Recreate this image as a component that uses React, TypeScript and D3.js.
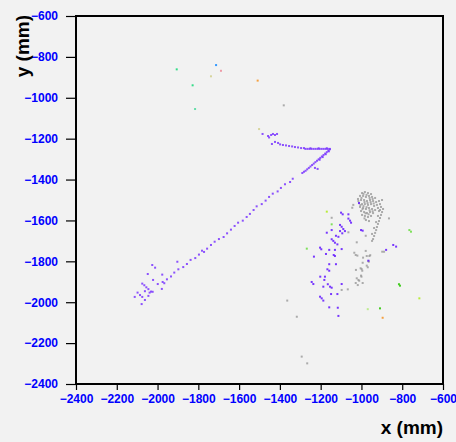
import React, { useEffect, useRef } from "react";
import * as d3 from "d3";

// hit positions in mm
const trackHits: [number, number][] = [
  [-1485, -1177], [-1458, -1187], [-1453, -1194], [-1443, -1182], [-1434, -1177], [-1424, -1182],
  [-1414, -1177], [-1439, -1226], [-1424, -1216], [-1409, -1221], [-1399, -1228], [-1385, -1231],
  [-1370, -1233], [-1355, -1236], [-1340, -1238], [-1326, -1241], [-1311, -1243], [-1296, -1246],
  [-1282, -1246], [-1275, -1250], [-1265, -1250], [-1255, -1250], [-1245, -1250], [-1235, -1250],
  [-1225, -1250], [-1215, -1250], [-1205, -1250], [-1195, -1250], [-1185, -1250], [-1175, -1250],
  [-1165, -1250], [-1155, -1250], [-1250, -1247], [-1210, -1247], [-1170, -1247],
  [-1155, -1252], [-1162, -1259], [-1170, -1266], [-1178, -1273], [-1186, -1280], [-1194, -1287],
  [-1202, -1294], [-1210, -1301], [-1218, -1308], [-1226, -1315], [-1234, -1322], [-1242, -1329],
  [-1250, -1336], [-1258, -1343], [-1266, -1350], [-1274, -1357], [-1282, -1362], [-1290, -1368],
  [-1160, -1262], [-1175, -1276], [-1190, -1290], [-1205, -1303], [-1228, -1343], [-1215, -1348],
  [-1337, -1396], [-1350, -1412], [-1375, -1423], [-1395, -1441], [-1411, -1458], [-1435, -1469],
  [-1453, -1485], [-1470, -1503], [-1489, -1520], [-1514, -1531], [-1529, -1549], [-1547, -1568],
  [-1563, -1583], [-1582, -1601], [-1605, -1611], [-1622, -1627], [-1640, -1645], [-1659, -1663],
  [-1676, -1681], [-1699, -1691], [-1720, -1704], [-1738, -1720], [-1757, -1738], [-1772, -1754],
  [-1782, -1748], [-1797, -1767], [-1815, -1784], [-1838, -1793], [-1856, -1813], [-1874, -1828],
  [-1898, -1839], [-1918, -1855], [-1934, -1874], [-1954, -1888], [-1975, -1901], [-1967, -1907],
  [-1999, -1911], [-2022, -1891], [-2026, -1818], [-2012, -1831], [-1903, -1802], [-2048, -1862],
  [-1977, -1865], [-2075, -1909], [-2065, -1917], [-2055, -1927], [-2045, -1936], [-2032, -1948],
  [-2039, -1953], [-2024, -1949], [-2098, -1953], [-2062, -1946], [-2086, -1965], [-2075, -1974],
  [-2112, -1974], [-2045, -1969], [-2062, -1989], [-2078, -2009], [-1979, -1935],
];

const showerHits: [number, number][] = [
  [-1100, -1562], [-1092, -1570], [-1064, -1570], [-1064, -1591], [-1056, -1601], [-1051, -1611],
  [-1105, -1622], [-1097, -1631], [-1089, -1642], [-1081, -1652], [-1105, -1652], [-1094, -1663],
  [-1146, -1647], [-1170, -1660], [-1113, -1680], [-1125, -1675], [-1146, -1692], [-1138, -1700],
  [-1130, -1709], [-1118, -1717], [-1203, -1733], [-1197, -1741], [-1158, -1744], [-1130, -1744],
  [-1097, -1740], [-1174, -1764], [-1136, -1769], [-1130, -1774], [-1233, -1777], [-1158, -1814],
  [-1125, -1814], [-1167, -1839], [-1158, -1846], [-1202, -1875], [-1179, -1875], [-1182, -1891],
  [-1165, -1912], [-1154, -1924], [-1146, -1929], [-1187, -1924], [-1244, -1901], [-1236, -1911],
  [-1097, -1911], [-1149, -1960], [-1118, -1960], [-1203, -1973], [-1195, -1981], [-1187, -1992],
  [-1158, -2025], [-1116, -2027], [-1113, -2067], [-1002, -1647], [-994, -1650], [-966, -1797],
  [-844, -1720], [-830, -1728], [-879, -1744], [-1012, -1515],
];

const grayHits: [number, number][] = [
  [-997, -1466], [-983, -1461], [-968, -1466], [-953, -1471], [-1007, -1480], [-992, -1480],
  [-978, -1485], [-963, -1480], [-948, -1485], [-933, -1490], [-1017, -1495], [-1002, -1500],
  [-987, -1500], [-973, -1505], [-958, -1500], [-943, -1505], [-928, -1510], [-914, -1505],
  [-899, -1500], [-1012, -1515], [-997, -1520], [-983, -1520], [-968, -1524], [-953, -1520],
  [-938, -1529], [-924, -1524], [-909, -1520], [-1007, -1534], [-992, -1539], [-978, -1544],
  [-963, -1539], [-948, -1544], [-933, -1549], [-919, -1539], [-904, -1534], [-1002, -1554],
  [-987, -1559], [-973, -1564], [-958, -1559], [-943, -1564], [-914, -1554], [-997, -1573],
  [-983, -1578], [-968, -1583], [-953, -1578], [-978, -1598], [-963, -1603],
  [-990, -1470], [-975, -1475], [-960, -1490], [-945, -1495], [-1000, -1490], [-985, -1510],
  [-970, -1515], [-955, -1510], [-940, -1517], [-1005, -1525], [-990, -1530], [-975, -1535],
  [-960, -1550], [-945, -1555], [-995, -1545], [-980, -1565], [-965, -1570], [-985, -1590],
  [-894, -1544], [-899, -1559], [-904, -1573], [-909, -1588], [-914, -1603], [-919, -1617],
  [-924, -1632], [-928, -1647], [-933, -1661], [-938, -1676], [-943, -1691], [-948, -1700],
  [-909, -1549], [-919, -1578], [-928, -1608], [-938, -1637], [-948, -1666],
  [-865, -1590], [-898, -1753], [-889, -1753], [-1023, -1707], [-1035, -1758], [-979, -1749],
  [-974, -1774], [-1015, -1505], [-1040, -1524], [-1045, -1538], [-1146, -1587], [-1064, -1658],
  [-979, -1675], [-1028, -1769], [-992, -1782], [-961, -1774], [-966, -1798], [-994, -1807],
  [-1027, -1842], [-1004, -1834], [-996, -1846], [-974, -1821], [-969, -1829], [-1023, -1883],
  [-1015, -1891], [-1002, -1870], [-1028, -1906], [-1018, -1916], [-994, -1906], [-1097, -1940],
  [-1067, -1937], [-1317, -2071], [-1293, -2266], [-1266, -2299], [-1364, -1992], [-1381, -1037],
  [-1020, -1772], [-957, -1770], [-964, -1802], [-999, -1838], [-1000, -1875], [-1011, -1895],
];

// isolated hits, tagged by detector layer
const strayX = [-1170, -1146, -1268, -765, -757, -816, -811, -716, -969, -909, -896, -1906, -1713, -1689, -1738, -1828, -1816, -1509, -1502];
const strayY = [-1557, -1619, -1738, -1647, -1655, -1912, -1919, -1981, -2034, -2030, -2076, -861, -840, -868, -895, -939, -1055, -916, -1153];
const strayLayer = ["L3", "L4", "L4", "L4", "L4", "L5", "L5", "L3", "L6", "L5", "L7", "L8", "L9", "L10", "L11", "L8", "L12", "L7", "L11"];

const layerNames = ["L3", "L4", "L5", "L6", "L7", "L8", "L9", "L10", "L11", "L12"];
const layerColors = ["#b8ec3a", "#7fe05c", "#44cc22", "#bdeb8f", "#f5a040", "#33dd88", "#3399ff", "#ee9aa6", "#d6d49c", "#66ddaa"];

const xTicks = d3.range(-2400, -599, 200);
const yTicks = d3.range(-2400, -599, 200);

export default function App() {
  const ref = useRef<SVGSVGElement>(null);

  useEffect(() => {
    const svg = d3.select(ref.current);
    svg.selectAll("*").remove();

    const x = d3.scaleLinear().domain([-2400, -600]).range([76, 443]);
    const y = d3.scaleLinear().domain([-600, -2400]).range([16, 384]);
    const color = d3.scaleOrdinal<string, string>().domain(layerNames).range(layerColors);

    svg.append("rect").attr("width", 456).attr("height", 442).attr("fill", "#f2f2f2");

    const minor = d3.range(-2400, -599, 50);

    // y axis
    const ga = svg.append("g").attr("transform", "translate(76,0)");
    ga.call(d3.axisLeft(y).tickValues(minor).tickSize(5).tickFormat(() => ""));
    ga.call(d3.axisLeft(y).tickValues(yTicks).tickSize(10).tickPadding(8).tickFormat(d3.format("d")));
    // x axis
    const gb = svg.append("g").attr("transform", "translate(0,384)");
    gb.call(d3.axisBottom(x).tickValues(minor).tickSize(4).tickFormat(() => ""));
    gb.call(d3.axisBottom(x).tickValues(xTicks).tickSize(6).tickPadding(4).tickFormat(d3.format("d")));

    svg.selectAll(".domain").remove();
    svg.selectAll(".tick line").attr("stroke", "#000").attr("stroke-width", 1.2);
    svg.selectAll(".tick text")
      .attr("fill", "#0000ff")
      .attr("font-family", "Liberation Sans, Arial, sans-serif")
      .attr("font-weight", "bold")
      .attr("font-size", 12);

    const drawHits = (pts: [number, number][], fill: string, op: number) => {
      svg.append("g").selectAll("rect").data(pts).enter().append("rect")
        .attr("x", d => x(d[0]) - 1)
        .attr("y", d => y(d[1]) - 1)
        .attr("width", 2)
        .attr("height", 2)
        .attr("fill", fill)
        .attr("fill-opacity", op);
    };
    drawHits(grayHits, "#999999", 0.8);
    drawHits(trackHits, "#7a36ff", 0.85);
    drawHits(showerHits, "#6a24ff", 0.9);

    svg.append("g").selectAll("rect").data(strayX).enter().append("rect")
      .attr("x", (d, i) => x(d) - 1)
      .attr("y", (d, i) => y(strayY[i]) - 1)
      .attr("width", 2)
      .attr("height", 2)
      .attr("fill", (d, i) => color(strayLayer[i]));

    // frame
    svg.append("rect")
      .attr("x", 76).attr("y", 16).attr("width", 367).attr("height", 368)
      .attr("fill", "none").attr("stroke", "#000").attr("stroke-width", 2);

    svg.append("text")
      .attr("x", 443).attr("y", 434)
      .attr("text-anchor", "end")
      .attr("font-family", "Liberation Sans, Arial, sans-serif")
      .attr("font-weight", "bold").attr("font-size", 19)
      .text("x (mm)");

    svg.append("text")
      .attr("transform", "translate(29,15) rotate(-90)")
      .attr("text-anchor", "end")
      .attr("font-family", "Liberation Sans, Arial, sans-serif")
      .attr("font-weight", "bold").attr("font-size", 19)
      .text("y (mm)");
  }, []);

  return (
    <svg ref={ref} width={456} height={442}
      style={{ position: "absolute", left: 0, top: 0, display: "block" }} />
  );
}
